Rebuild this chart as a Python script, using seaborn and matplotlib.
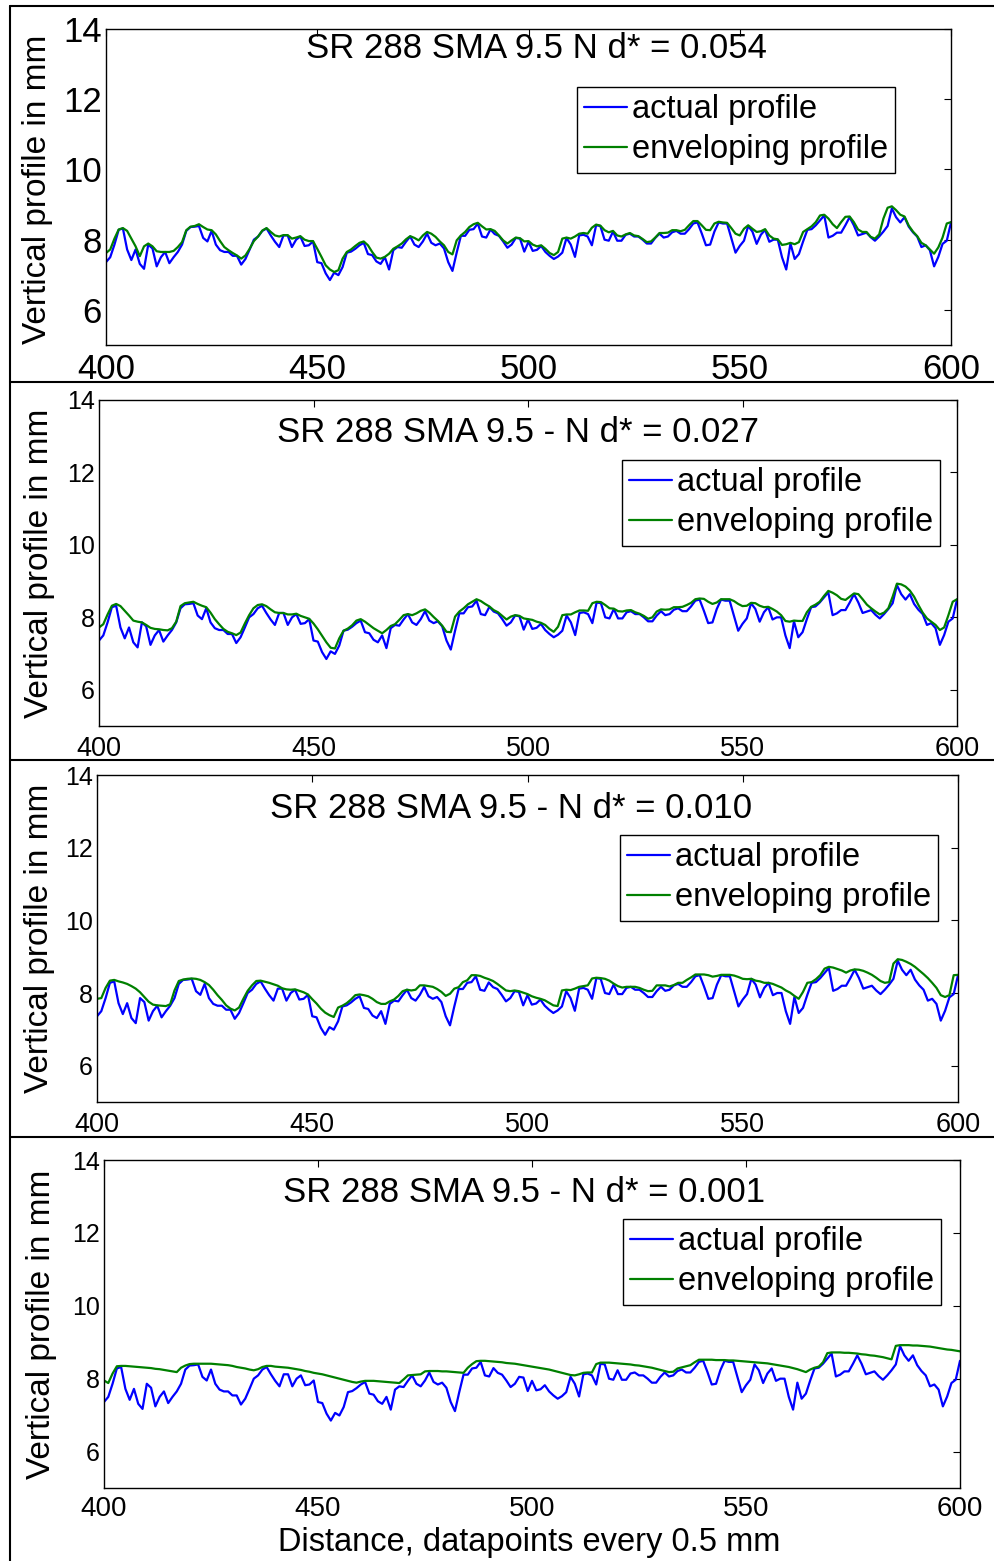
import numpy as np
import pandas as pd
import matplotlib
matplotlib.use("Agg")
import matplotlib.pyplot as plt
from matplotlib.lines import Line2D
import seaborn as sns

# ---------------- data ----------------
distance = np.arange(400, 601)  # datapoints (every 0.5 mm)

actual_profile = [
    7.36, 7.50, 7.86, 8.28, 8.32, 7.72, 7.42, 7.72, 7.31, 7.17,
    7.86, 7.75, 7.24, 7.50, 7.65, 7.33, 7.50, 7.65, 7.86, 8.25,
    8.36, 8.37, 8.39, 8.05, 7.95, 8.25, 7.86, 7.70, 7.65, 7.65,
    7.54, 7.54, 7.29, 7.45, 7.72, 8.00, 8.09, 8.25, 8.32, 8.12,
    7.94, 7.79, 8.12, 8.12, 7.79, 8.00, 8.09, 7.82, 7.84, 7.95,
    7.36, 7.33, 7.04, 6.85, 7.06, 6.99, 7.22, 7.63, 7.66, 7.74,
    7.84, 7.91, 7.59, 7.56, 7.38, 7.31, 7.50, 7.15, 7.70, 7.79,
    7.77, 7.94, 8.09, 7.86, 7.79, 7.95, 8.17, 7.91, 7.84, 7.89,
    7.75, 7.36, 7.11, 7.63, 8.11, 8.11, 8.28, 8.30, 8.46, 8.09,
    8.06, 8.29, 8.16, 8.11, 7.95, 7.77, 7.86, 8.05, 8.03, 7.66,
    7.94, 7.68, 7.71, 7.82, 7.65, 7.54, 7.45, 7.52, 7.63, 8.05,
    7.86, 7.51, 8.12, 8.14, 8.09, 7.84, 8.41, 8.39, 8.00, 7.97,
    8.23, 7.97, 7.97, 8.14, 8.17, 8.09, 8.09, 8.00, 7.89, 7.89,
    8.05, 8.17, 8.06, 8.09, 8.21, 8.25, 8.17, 8.17, 8.30, 8.46,
    8.49, 8.18, 7.84, 7.86, 8.23, 8.49, 8.46, 8.46, 8.05, 7.63,
    7.82, 7.97, 8.39, 8.23, 7.88, 8.14, 8.28, 7.94, 8.00, 8.00,
    7.50, 7.15, 7.89, 7.45, 7.59, 7.95, 8.28, 8.30, 8.41, 8.55,
    8.69, 8.06, 8.11, 8.20, 8.20, 8.41, 8.64, 8.41, 8.12, 8.16,
    8.20, 8.07, 7.97, 8.09, 8.23, 8.39, 8.89, 8.64, 8.49, 8.64,
    8.37, 8.21, 8.09, 7.79, 7.84, 7.70, 7.24, 7.51, 7.88, 7.97,
    8.49,
]

envelope_d054 = [
    7.62, 7.72, 8.03, 8.29, 8.33, 8.25, 8.03, 7.81, 7.53, 7.81,
    7.89, 7.81, 7.67, 7.65, 7.65, 7.65, 7.68, 7.79, 7.93, 8.27,
    8.37, 8.39, 8.44, 8.36, 8.29, 8.27, 8.15, 7.96, 7.79, 7.70,
    7.62, 7.55, 7.46, 7.55, 7.74, 7.96, 8.09, 8.26, 8.33, 8.22,
    8.12, 8.09, 8.13, 8.13, 8.03, 8.06, 8.10, 8.00, 7.96, 7.96,
    7.74, 7.51, 7.27, 7.15, 7.08, 7.13, 7.46, 7.65, 7.72, 7.82,
    7.91, 7.95, 7.84, 7.65, 7.49, 7.46, 7.51, 7.60, 7.74, 7.81,
    7.89, 8.01, 8.10, 8.05, 7.98, 8.12, 8.22, 8.17, 8.08, 7.95,
    7.84, 7.65, 7.58, 7.98, 8.12, 8.22, 8.36, 8.44, 8.48, 8.38,
    8.29, 8.30, 8.25, 8.12, 7.98, 7.89, 7.98, 8.06, 8.04, 7.95,
    7.96, 7.86, 7.81, 7.84, 7.74, 7.62, 7.56, 7.65, 8.03, 8.06,
    8.03, 8.09, 8.17, 8.19, 8.17, 8.34, 8.43, 8.40, 8.27, 8.21,
    8.25, 8.12, 8.09, 8.15, 8.19, 8.12, 8.10, 8.02, 7.93, 7.95,
    8.06, 8.19, 8.19, 8.20, 8.27, 8.27, 8.24, 8.28, 8.41, 8.53,
    8.53, 8.41, 8.28, 8.27, 8.46, 8.51, 8.49, 8.48, 8.33, 8.17,
    8.12, 8.31, 8.41, 8.31, 8.22, 8.24, 8.30, 8.12, 8.03, 8.01,
    7.85, 7.87, 7.91, 7.87, 7.93, 8.22, 8.30, 8.38, 8.50, 8.69,
    8.71, 8.60, 8.44, 8.33, 8.50, 8.65, 8.66, 8.50, 8.29, 8.22,
    8.22, 8.08, 8.03, 8.15, 8.60, 8.91, 8.95, 8.84, 8.71, 8.66,
    8.40, 8.23, 8.10, 7.91, 7.84, 7.72, 7.60, 7.78, 8.06, 8.46,
    8.50,
]

envelope_d027 = [
    7.72, 7.81, 8.08, 8.32, 8.37, 8.31, 8.18, 8.05, 7.91, 7.88,
    7.86, 7.79, 7.71, 7.68, 7.67, 7.65, 7.64, 7.70, 7.88, 8.31,
    8.39, 8.41, 8.43, 8.37, 8.32, 8.28, 8.13, 7.95, 7.81, 7.68,
    7.60, 7.56, 7.51, 7.58, 7.83, 8.06, 8.25, 8.34, 8.36, 8.31,
    8.22, 8.14, 8.12, 8.12, 8.08, 8.08, 8.10, 8.04, 8.00, 7.96,
    7.83, 7.67, 7.49, 7.31, 7.16, 7.14, 7.42, 7.63, 7.69, 7.78,
    7.91, 7.95, 7.88, 7.79, 7.70, 7.63, 7.56, 7.65, 7.76, 7.81,
    7.93, 8.06, 8.09, 8.06, 8.11, 8.18, 8.22, 8.13, 8.01, 7.90,
    7.77, 7.60, 7.59, 8.02, 8.16, 8.25, 8.36, 8.43, 8.50, 8.45,
    8.37, 8.30, 8.20, 8.14, 8.04, 7.94, 8.02, 8.06, 8.04, 7.97,
    7.95, 7.93, 7.88, 7.85, 7.79, 7.68, 7.60, 7.74, 8.06, 8.08,
    8.08, 8.14, 8.19, 8.19, 8.18, 8.39, 8.43, 8.42, 8.34, 8.25,
    8.24, 8.17, 8.16, 8.19, 8.20, 8.14, 8.10, 8.04, 7.96, 8.00,
    8.16, 8.22, 8.21, 8.22, 8.28, 8.28, 8.29, 8.34, 8.40, 8.50,
    8.52, 8.51, 8.43, 8.37, 8.41, 8.50, 8.50, 8.50, 8.45, 8.37,
    8.31, 8.32, 8.40, 8.39, 8.32, 8.28, 8.29, 8.23, 8.16, 8.06,
    7.90, 7.88, 7.91, 7.90, 7.90, 8.14, 8.29, 8.35, 8.43, 8.59,
    8.73, 8.68, 8.61, 8.51, 8.48, 8.57, 8.66, 8.64, 8.50, 8.35,
    8.25, 8.16, 8.08, 8.13, 8.25, 8.57, 8.93, 8.91, 8.85, 8.74,
    8.57, 8.34, 8.13, 7.97, 7.88, 7.79, 7.65, 7.72, 8.06, 8.43,
    8.50,
]

envelope_d010 = [
    7.84, 7.86, 8.14, 8.34, 8.36, 8.32, 8.29, 8.25, 8.19, 8.12,
    8.02, 7.89, 7.76, 7.68, 7.66, 7.65, 7.64, 7.69, 8.07, 8.33,
    8.37, 8.39, 8.40, 8.39, 8.36, 8.30, 8.22, 8.09, 7.94, 7.81,
    7.66, 7.57, 7.52, 7.60, 7.84, 8.06, 8.21, 8.33, 8.34, 8.31,
    8.28, 8.24, 8.20, 8.13, 8.10, 8.09, 8.10, 8.06, 8.02, 7.96,
    7.83, 7.71, 7.57, 7.46, 7.39, 7.34, 7.60, 7.65, 7.72, 7.82,
    7.94, 7.96, 7.94, 7.91, 7.84, 7.75, 7.70, 7.70, 7.77, 7.82,
    7.92, 8.05, 8.09, 8.07, 8.09, 8.21, 8.21, 8.19, 8.17, 8.11,
    8.03, 7.92, 7.98, 8.12, 8.16, 8.30, 8.35, 8.49, 8.49, 8.47,
    8.42, 8.38, 8.33, 8.25, 8.16, 8.07, 8.05, 8.07, 8.05, 8.01,
    7.97, 7.91, 7.87, 7.84, 7.80, 7.73, 7.66, 7.64, 8.07, 8.09,
    8.08, 8.12, 8.17, 8.19, 8.21, 8.40, 8.42, 8.41, 8.39, 8.34,
    8.26, 8.19, 8.15, 8.17, 8.17, 8.17, 8.14, 8.09, 8.05, 8.06,
    8.21, 8.21, 8.21, 8.18, 8.22, 8.28, 8.28, 8.36, 8.43, 8.51,
    8.51, 8.51, 8.49, 8.45, 8.47, 8.50, 8.50, 8.50, 8.48, 8.44,
    8.39, 8.38, 8.39, 8.34, 8.32, 8.28, 8.28, 8.25, 8.20, 8.15,
    8.07, 8.01, 7.92, 7.84, 8.03, 8.28, 8.30, 8.38, 8.49, 8.67,
    8.72, 8.70, 8.66, 8.62, 8.56, 8.62, 8.65, 8.64, 8.61, 8.56,
    8.50, 8.42, 8.33, 8.28, 8.30, 8.81, 8.93, 8.91, 8.86, 8.80,
    8.72, 8.62, 8.52, 8.41, 8.28, 8.14, 7.94, 7.89, 7.94, 8.49,
    8.50,
]

envelope_d001 = [
    7.95, 7.88, 8.14, 8.34, 8.35, 8.35, 8.34, 8.33, 8.32, 8.31,
    8.30, 8.29, 8.27, 8.26, 8.24, 8.22, 8.20, 8.18, 8.30, 8.36,
    8.40, 8.41, 8.41, 8.41, 8.41, 8.41, 8.40, 8.39, 8.38, 8.37,
    8.35, 8.32, 8.30, 8.28, 8.25, 8.23, 8.26, 8.32, 8.35, 8.35,
    8.33, 8.32, 8.31, 8.30, 8.28, 8.26, 8.24, 8.21, 8.19, 8.16,
    8.14, 8.12, 8.09, 8.06, 8.03, 8.00, 7.97, 7.94, 7.91, 7.89,
    7.92, 7.94, 7.94, 7.94, 7.93, 7.92, 7.91, 7.90, 7.89, 7.88,
    7.98, 8.09, 8.10, 8.11, 8.12, 8.20, 8.21, 8.21, 8.21, 8.20,
    8.20, 8.19, 8.18, 8.17, 8.16, 8.30, 8.40, 8.48, 8.49, 8.49,
    8.48, 8.47, 8.46, 8.45, 8.43, 8.42, 8.41, 8.39, 8.37, 8.35,
    8.33, 8.31, 8.29, 8.27, 8.25, 8.22, 8.19, 8.16, 8.13, 8.10,
    8.09, 8.12, 8.16, 8.17, 8.17, 8.40, 8.44, 8.44, 8.44, 8.43,
    8.42, 8.41, 8.40, 8.39, 8.37, 8.36, 8.34, 8.32, 8.30, 8.27,
    8.24, 8.21, 8.18, 8.19, 8.28, 8.31, 8.34, 8.37, 8.45, 8.52,
    8.52, 8.52, 8.52, 8.51, 8.51, 8.51, 8.50, 8.50, 8.49, 8.48,
    8.47, 8.46, 8.45, 8.44, 8.43, 8.42, 8.40, 8.38, 8.36, 8.34,
    8.32, 8.29, 8.26, 8.22, 8.18, 8.25, 8.30, 8.33, 8.45, 8.70,
    8.72, 8.72, 8.72, 8.71, 8.71, 8.70, 8.69, 8.67, 8.66, 8.64,
    8.63, 8.61, 8.59, 8.56, 8.53, 8.90, 8.92, 8.92, 8.92, 8.91,
    8.91, 8.90, 8.89, 8.88, 8.86, 8.84, 8.82, 8.80, 8.79, 8.77,
    8.75,
]

titles = [
    "SR 288 SMA 9.5 N d* = 0.054",
    "SR 288 SMA 9.5 - N d* = 0.027",
    "SR 288 SMA 9.5 - N d* = 0.010",
    "SR 288 SMA 9.5 - N d* = 0.001",
]
envelopes = [envelope_d054, envelope_d027, envelope_d010, envelope_d001]
legend_labels = ["actual profile", "enveloping profile"]
x_ticks = [400, 450, 500, 550, 600]
y_ticks = [6, 8, 10, 12, 14]
y_label = "Vertical profile in mm"
x_label = "Distance, datapoints every 0.5 mm"

# ---------------- style ----------------
sns.set_style("white")
plt.rcParams["font.family"] = ["Liberation Sans", "DejaVu Sans"]
plt.rcParams["text.color"] = "black"
plt.rcParams["axes.labelcolor"] = "black"
plt.rcParams["xtick.color"] = "black"
plt.rcParams["ytick.color"] = "black"

W, H = 994, 1561
fig = plt.figure(figsize=(W / 100, H / 100), dpi=100)


def fx(px):
    return px / W


def fy(py):
    return 1 - py / H


# layout per panel (pixel geometry)
layout = [
    dict(rect=(106, 951, 29, 345), tsize=25, title_xy=(536, 48),
         xt=25, yt=25, xpad=6, leg=(577, 87), ylab=(38, 189)),
    dict(rect=(99, 957, 400, 726), tsize=25, title_xy=(518, 433),
         xt=19.5, yt=18, xpad=7, leg=(622, 460), ylab=(40, 563)),
    dict(rect=(97, 958, 775, 1102), tsize=25, title_xy=(511, 809),
         xt=19.5, yt=18, xpad=7, leg=(620, 835), ylab=(40, 938)),
    dict(rect=(104, 960, 1160, 1488), tsize=25, title_xy=(524, 1192),
         xt=20, yt=18, xpad=6, leg=(623, 1219), ylab=(42, 1324)),
]

for k, (lay, env, title) in enumerate(zip(layout, envelopes, titles)):
    x0, x1, y0, y1 = lay["rect"]
    ax = fig.add_axes([fx(x0), fy(y1), fx(x1) - fx(x0), (y1 - y0) / H])
    df = pd.DataFrame({"distance": distance, "actual": actual_profile, "envelope": env})
    sns.lineplot(data=df, x="distance", y="actual", color="#0000ff", lw=1.6,
                 ax=ax, label=legend_labels[0], errorbar=None)
    sns.lineplot(data=df, x="distance", y="envelope", color="#008000", lw=1.6,
                 ax=ax, label=legend_labels[1], errorbar=None)
    ax.set_xlim(400, 600)
    ax.set_ylim(5, 14)
    ax.set_xticks(x_ticks)
    ax.set_yticks(y_ticks)
    ax.tick_params(axis="both", direction="in", top=True, right=True,
                   length=5, width=0.8, color="black", labelcolor="black")
    ax.tick_params(axis="x", labelsize=lay["xt"], pad=lay["xpad"])
    ax.tick_params(axis="y", labelsize=lay["yt"], pad=3)
    for sp in ax.spines.values():
        sp.set_color("black")
        sp.set_linewidth(1.0)
    ax.set_xlabel("")
    ax.set_ylabel(y_label, fontsize=24, color="black")
    ax.yaxis.set_label_coords(fx(lay["ylab"][0]), fy(lay["ylab"][1]),
                              transform=fig.transFigure)
    ax.yaxis.label.set_verticalalignment("center")
    fig.text(fx(lay["title_xy"][0]), fy(lay["title_xy"][1]), title,
             fontsize=lay["tsize"], ha="center", va="center", color="black")
    leg = ax.legend(loc="upper left",
                    bbox_to_anchor=(fx(lay["leg"][0]), fy(lay["leg"][1])),
                    bbox_transform=fig.transFigure, borderaxespad=0,
                    fontsize=23.5, handlelength=1.3, handletextpad=0.15,
                    labelspacing=0.28, borderpad=0.22, fancybox=False,
                    framealpha=1, edgecolor="black")
    leg.get_frame().set_linewidth(1.0)
    for t in leg.get_texts():
        t.set_color("black")
    for line in leg.get_lines():
        line.set_linewidth(1.6)
    if k == 3:
        ax.set_xlabel(x_label, fontsize=23.5, color="black")
        ax.xaxis.set_label_coords(fx(529), fy(1542), transform=fig.transFigure)
        ax.xaxis.label.set_verticalalignment("center")

# outer frame lines
frame_kw = dict(color="black", lw=1.5, transform=fig.transFigure)
fig.add_artist(Line2D([fx(10), fx(994)], [fy(6), fy(6)], **frame_kw))
fig.add_artist(Line2D([fx(10), fx(10)], [fy(6), fy(1561)], **frame_kw))
for yy in (382, 760, 1137):
    fig.add_artist(Line2D([fx(10), fx(994)], [fy(yy), fy(yy)], **frame_kw))

fig.savefig("out.png", dpi=100)
